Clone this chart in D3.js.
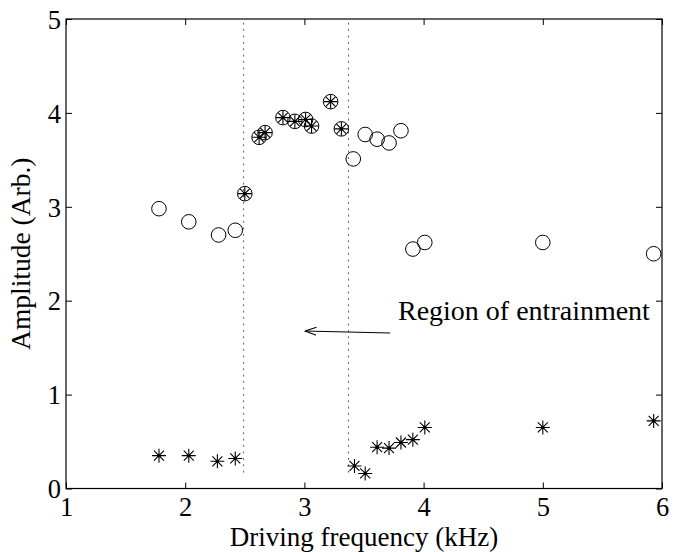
<!DOCTYPE html>
<html>
<head>
<meta charset="utf-8">
<script src="https://cdn.jsdelivr.net/npm/d3@7/dist/d3.min.js"></script>
<style>
  html, body { margin: 0; padding: 0; background: #fff; }
  svg text { font-family: "Liberation Serif", "Times New Roman", serif; fill: #000; }
</style>
</head>
<body>
<svg id="chart" width="682" height="552"></svg>
<script>
// Response amplitude (circles) vs driving frequency
const circleFreq = [1.78, 2.03, 2.28, 2.42, 2.50, 2.62, 2.67, 2.82, 2.92, 3.01, 3.06, 3.22, 3.31, 3.41, 3.51, 3.61, 3.71, 3.81, 3.91, 4.01, 5.00, 5.93];
const circleAmp  = [2.98, 2.84, 2.70, 2.75, 3.14, 3.74, 3.79, 3.95, 3.91, 3.93, 3.86, 4.12, 3.83, 3.51, 3.77, 3.72, 3.68, 3.81, 2.55, 2.62, 2.62, 2.50];

// Second amplitude (asterisks); inside the entrainment band it coincides with the circles
const starFreq = [1.78, 2.03, 2.27, 2.42, 2.50, 2.62, 2.67, 2.82, 2.92, 3.01, 3.06, 3.22, 3.31, 3.42, 3.51, 3.61, 3.71, 3.81, 3.91, 4.01, 5.00, 5.93];
const starAmp  = [0.35, 0.35, 0.29, 0.32, 3.14, 3.74, 3.79, 3.95, 3.91, 3.93, 3.86, 4.12, 3.83, 0.24, 0.16, 0.44, 0.43, 0.49, 0.52, 0.65, 0.65, 0.72];

// Edges of the entrainment region
const regionEdges = [2.49, 3.37];
const regionSpan = [0.16, 4.96];

const xTicks = [1, 2, 3, 4, 5, 6];
const yTicks = [0, 1, 2, 3, 4, 5];

const svg = d3.select("#chart");
const margin = { left: 66, top: 19, right: 20, bottom: 63.5 };
const W = 682 - margin.left - margin.right;
const H = 552 - margin.top - margin.bottom;

const x = d3.scaleLinear().domain([1, 6]).range([0, W]);
const y = d3.scaleLinear().domain([0, 5]).range([H, 0]);

const g = svg.append("g").attr("transform", `translate(${margin.left},${margin.top})`);

// Axes with inward ticks on all four sides
const tickLen = 6;
const bottomAxis = g.append("g").attr("transform", `translate(0,${H})`)
  .call(d3.axisBottom(x).tickValues(xTicks).tickSizeInner(-tickLen).tickSizeOuter(0).tickPadding(9).tickFormat(d3.format("d")));
const leftAxis = g.append("g")
  .call(d3.axisLeft(y).tickValues(yTicks).tickSizeInner(-tickLen).tickSizeOuter(0).tickPadding(5).tickFormat(d3.format("d")));
const topAxis = g.append("g")
  .call(d3.axisTop(x).tickValues(xTicks).tickSizeInner(-tickLen).tickSizeOuter(0).tickFormat(""));
const rightAxis = g.append("g").attr("transform", `translate(${W},0)`)
  .call(d3.axisRight(y).tickValues(yTicks).tickSizeInner(-tickLen).tickSizeOuter(0).tickFormat(""));

[bottomAxis, leftAxis, topAxis, rightAxis].forEach(a => {
  a.select(".domain").remove();
  a.selectAll("line").attr("stroke", "#000").attr("stroke-width", 1);
  a.selectAll("text").attr("font-size", 26.5).attr("font-family", "Liberation Serif, serif").attr("fill", "#000");
});
bottomAxis.selectAll("text").attr("dy", "0.71em");
leftAxis.selectAll("text").attr("dy", "0.35em");

// Plot box
g.append("rect").attr("x", 0).attr("y", 0).attr("width", W).attr("height", H)
  .attr("fill", "none").attr("stroke", "#000").attr("stroke-width", 1.2);

// Dotted boundaries of the entrainment region
g.selectAll(".edge").data(regionEdges).enter().append("line")
  .attr("class", "edge")
  .attr("x1", d => x(d)).attr("x2", d => x(d))
  .attr("y1", y(regionSpan[1])).attr("y2", y(regionSpan[0]))
  .attr("stroke", "#555").attr("stroke-width", 1).attr("stroke-dasharray", "1.8,4.6");

// Circle markers
const circles = circleFreq.map((f, i) => ({ f, a: circleAmp[i] }));
g.selectAll(".circ").data(circles).enter().append("circle")
  .attr("class", "circ")
  .attr("cx", d => x(d.f)).attr("cy", d => y(d.a)).attr("r", 7.3)
  .attr("fill", "none").attr("stroke", "#000").attr("stroke-width", 1);

// Asterisk markers: plus and cross overlaid
const stars = starFreq.map((f, i) => ({ f, a: starAmp[i] }));
const s = 7, d2 = 5;
const starPath = `M${-s},0L${s},0M0,${-s}L0,${s}M${-d2},${-d2}L${d2},${d2}M${-d2},${d2}L${d2},${-d2}`;
const starG = g.selectAll(".star").data(stars).enter().append("g")
  .attr("class", "star")
  .attr("transform", d => `translate(${x(d.f)},${y(d.a)})`);
starG.append("path").attr("d", starPath).attr("stroke", "#000").attr("stroke-width", 1.1).attr("fill", "none");
starG.append("circle").attr("r", 1.7).attr("fill", "#000");

// Annotation
g.append("text")
  .attr("x", x(3.785)).attr("y", y(1.79))
  .attr("font-size", 28)
  .text("Region of entrainment");

svg.append("defs").append("marker")
  .attr("id", "head").attr("viewBox", "0 0 12 10")
  .attr("refX", 11.5).attr("refY", 5)
  .attr("markerWidth", 12).attr("markerHeight", 10)
  .attr("markerUnits", "userSpaceOnUse")
  .attr("orient", "auto")
  .append("path").attr("d", "M0,1L11.5,5L0,9").attr("fill", "none").attr("stroke", "#000").attr("stroke-width", 1.1);

g.append("line")
  .attr("x1", x(3.72)).attr("y1", y(1.656))
  .attr("x2", x(3.005)).attr("y2", y(1.677))
  .attr("stroke", "#000").attr("stroke-width", 1)
  .attr("marker-end", "url(#head)");

// Axis titles
svg.append("text")
  .attr("x", margin.left + W / 2).attr("y", 546)
  .attr("text-anchor", "middle").attr("font-size", 27)
  .text("Driving frequency (kHz)");

svg.append("text")
  .attr("transform", `translate(30,${margin.top + H / 2}) rotate(-90)`)
  .attr("text-anchor", "middle").attr("font-size", 27.5)
  .text("Amplitude (Arb.)");
</script>
</body>
</html>
